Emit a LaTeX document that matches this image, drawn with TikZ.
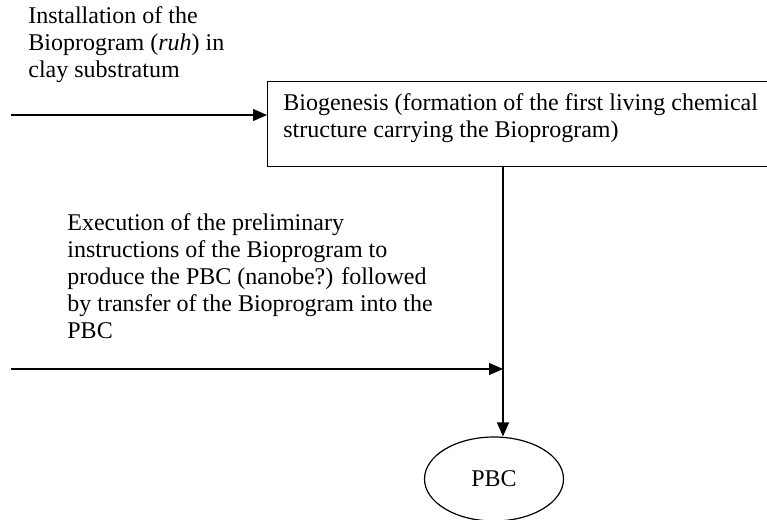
\documentclass[tikz,border=0pt]{standalone}
\usepackage{fontspec}
\setmainfont{Liberation Serif}
\usetikzlibrary{arrows.meta,calc,positioning,shapes.geometric}

\tikzset{
  lbl/.style={inner sep=0pt,align=left,font=\fontsize{12}{13.5}\selectfont},
  flow/.style={line width=0.6pt,-{Triangle[length=7pt,width=6pt]}},
  plain/.style={line width=0.6pt}
}

\begin{document}
\begin{tikzpicture}[x=0.5pt,y=-0.5pt]
\clip (0,0) rectangle (767,520);
\fill[white] (0,0) rectangle (767,520);
% boxes
\node[draw,line width=0.6pt,anchor=north west,minimum width=254pt,minimum height=42.5pt,inner sep=0pt] (bio) at (267,81) {};
\node[lbl,anchor=base west] (biotxt) at (283,137) {Biogenesis (formation of the first living chemical\\structure carrying the Bioprogram)};
\node[draw,ellipse,line width=0.6pt,minimum width=69.5pt,minimum height=42pt,inner sep=0pt,font=\fontsize{12}{13.5}\selectfont] (pbc) at (494,479) {PBC};
% labels (base = last line)
\node[lbl,anchor=base west] (inst) at (28,77) {Installation of the\\Bioprogram (\textit{ruh}) in\\clay substratum};
\node[lbl,anchor=base west] (exec) at (67,338) {Execution of the preliminary\\instructions of the Bioprogram to\\produce the PBC (nanobe?) followed\\by transfer of the Bioprogram into the\\PBC};
% connectors
\coordinate (in1) at (11,115); \coordinate (in2) at (11,369); \coordinate (j) at (503,369);
\draw[flow] (in1) -- (in1 -| bio.west);
\draw[plain] (j |- bio.south) -- (j);
\draw[flow] (in2) -- (j);
\draw[flow] (j) -- (j |- pbc.north);
\end{tikzpicture}
\end{document}
